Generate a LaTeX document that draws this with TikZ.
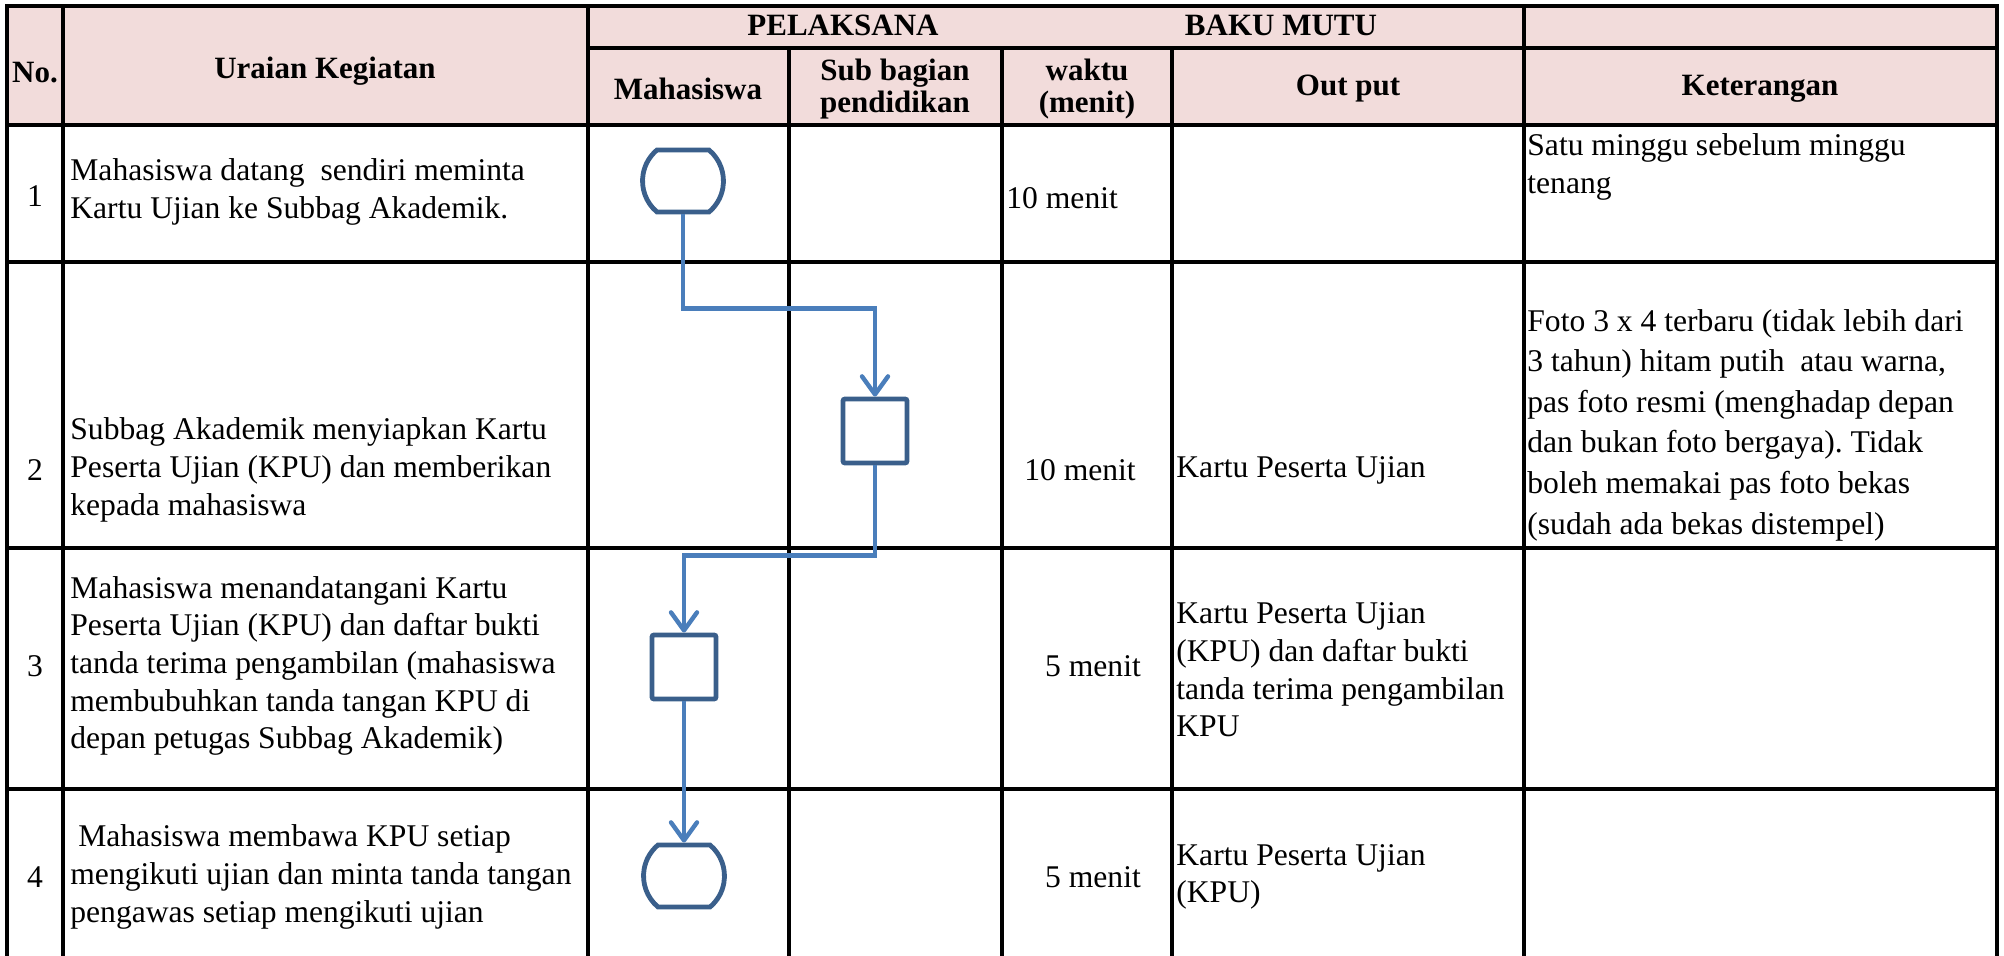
\documentclass[tikz,border=0pt]{standalone}
\usepackage{fontspec}
\setmainfont{Liberation Serif}
\usetikzlibrary{shapes.misc,arrows.meta}

\definecolor{hdrpink}{HTML}{F2DCDB}
\definecolor{shapeblue}{HTML}{3A5F8B}
\definecolor{flowblue}{HTML}{4A7EBB}

\tikzset{
  gridline/.style={line width=1.6pt, line cap=rect},
  hdr/.style={font=\fontsize{15.5}{16}\selectfont\bfseries, align=center, inner sep=0pt},
  txt/.style={font=\fontsize{15.8}{18.8}\selectfont, align=left, inner sep=0pt, anchor=west},
  num/.style={font=\fontsize{15.8}{18.8}\selectfont, inner sep=0pt},
  term/.style={rounded rectangle, rounded rectangle arc length=100, draw=shapeblue, line width=2.4pt,
    minimum width=40pt, minimum height=31pt, inner sep=0pt},
  proc/.style={rectangle, rounded corners=1pt, draw=shapeblue, line width=2.4pt,
    minimum width=32pt, minimum height=32pt, inner sep=0pt},
  flow/.style={draw=flowblue, line width=2.2pt, -{Straight Barb[length=9pt,width=13pt,round]}},
}

\begin{document}
\begin{tikzpicture}[x=0.5pt, y=-0.5pt]
        \useasboundingbox (0,0) rectangle (2004,956);
        % table
        \fill[hdrpink] (7,6) rectangle (1997,125);
        \draw[gridline] (7,6) -- (1997,6);
        \draw[gridline] (588,48) -- (1997,48);
        \foreach \y in {125,262,548,789}
          \draw[gridline] (7,\y) -- (1997,\y);
        \foreach \x in {7,63,588,1524,1997}
          \draw[gridline] (\x,6) -- (\x,956);
        \foreach \x in {789,1002,1172}
          \draw[gridline] (\x,48) -- (\x,956);

        % header
        \node[hdr] (hno) at (35,73) {No.};
        \node[hdr] (hur) at (325,71) {Uraian Kegiatan};
        \node[hdr] (hpl) at (843,25) {PELAKSANA};
        \node[hdr] (hbm) at (1281,25) {BAKU MUTU};
        \node[hdr] (hmh) at (688,89) {Mahasiswa};
        \node[hdr] (hsb) at (895,89) {Sub bagian\\pendidikan};
        \node[hdr] (hwk) at (1087,89) {waktu\\(menit)};
        \node[hdr] (hop) at (1348,89) {Out put};
        \node[hdr] (hkt) at (1760,89) {Keterangan};

        % rows
        \node[num] (n1) at (35,196) {1};
        \node[txt] (u1) at (70,192) {Mahasiswa datang\ \ sendiri meminta\\Kartu Ujian ke Subbag Akademik.};
        \node[txt] (w1) at (1006,198) {10 menit};
        \node[txt] (k1) at (1527,167) {Satu minggu sebelum minggu\\tenang};

        \node[num] (n2) at (35,470) {2};
        \node[txt] (u2) at (70,470) {Subbag Akademik menyiapkan Kartu\\Peserta Ujian (KPU) dan memberikan\\kepada mahasiswa};
        \node[num] (w2) at (1080,470) {10 menit};
        \node[txt] (o2) at (1176,470) {Kartu Peserta Ujian};
        \node[txt, font=\fontsize{15.8}{20.3}\selectfont] (k2) at (1527,425) {Foto 3 x 4 terbaru (tidak lebih dari\\3 tahun) hitam putih\ \ atau warna,\\pas foto resmi (menghadap depan\\dan bukan foto bergaya).\ Tidak\\boleh memakai pas foto bekas\\(sudah ada bekas distempel)};

        \node[num] (n3) at (35,666) {3};
        \node[txt] (u3) at (70,666) {Mahasiswa menandatangani Kartu\\Peserta Ujian (KPU) dan daftar bukti\\tanda terima pengambilan (mahasiswa\\membubuhkan tanda tangan KPU di\\depan petugas Subbag Akademik)};
        \node[num] (w3) at (1093,666) {5 menit};
        \node[txt] (o3) at (1176,670) {Kartu Peserta Ujian\\(KPU) dan daftar bukti\\tanda terima pengambilan\\KPU};

        \node[num] (n4) at (35,877) {4};
        \node[txt] (u4) at (70,877) {\ Mahasiswa membawa KPU setiap\\mengikuti ujian dan minta tanda tangan\\pengawas setiap mengikuti ujian};
        \node[num] (w4) at (1093,877) {5 menit};
        \node[txt] (o4) at (1176,877) {Kartu Peserta Ujian\\(KPU)};

        % flow
        \node[term] (t1) at (683,181) {};
        \node[proc] (p2) at (875,431) {};
        \node[proc] (p3) at (684,667) {};
        \node[term] (t4) at (684,876) {};
        \draw[flow] (t1.south) -- ++(0,94) -| (p2.north);
        \draw[flow] (p2.south) -- ++(0,90) -| (p3.north);
        \draw[flow] (p3.south) -- (t4.north);
    \end{tikzpicture}
\end{document}
